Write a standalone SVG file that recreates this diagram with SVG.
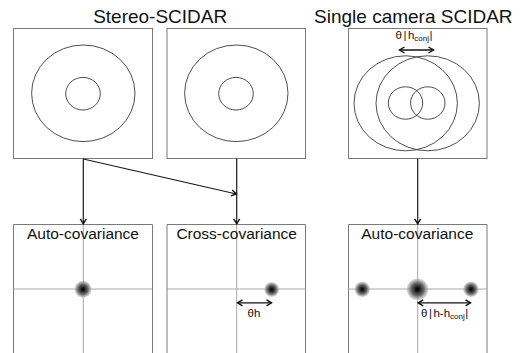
<svg xmlns="http://www.w3.org/2000/svg" width="520" height="353" viewBox="0 0 520 353">
<style>
.box{fill:none;stroke:#7a7a7a;stroke-width:1}
.ring{fill:none;stroke:#3a3a3a;stroke-width:0.9}
.grid{stroke:#a8a8a8;stroke-width:1;fill:none}
.conn{stroke:#1a1a1a;stroke-width:1.2;fill:none}
.dim{stroke:#111;stroke-width:1.3;fill:none}
.title{font-family:"Liberation Sans",Arial,sans-serif;font-size:19px;fill:#111;text-anchor:middle}
.lbl{font-family:"Liberation Sans",Arial,sans-serif;font-size:15.5px;fill:#111;text-anchor:middle}
.small{font-family:"Liberation Sans",Arial,sans-serif;font-size:11.5px;fill:#111}
</style>
<defs>
<marker id="ah" viewBox="0 0 8 8" refX="6.5" refY="4" markerWidth="8" markerHeight="8" markerUnits="userSpaceOnUse" orient="auto-start-reverse">
<path d="M1.5,1 L6.5,4 L1.5,7" fill="none" stroke="#111" stroke-width="1.4"/>
</marker>
<radialGradient id="blob">
<stop offset="0" stop-color="#000"/>
<stop offset="0.2" stop-color="#1a1a1a"/>
<stop offset="0.6" stop-color="#6a6a6a"/>
<stop offset="1" stop-color="#aaa" stop-opacity="0.4"/>
</radialGradient>
</defs>
<rect width="520" height="353" fill="#fff"/>
<text class="title" x="160.2" y="23.3">Stereo-SCIDAR</text>
<text class="title" x="413.3" y="23.3">Single camera SCIDAR</text>
<g id="pupil1">
<rect class="box" x="13.5" y="28.5" width="139" height="130"/>
<ellipse class="ring" cx="83.3" cy="93.3" rx="51.7" ry="48.3"/>
<ellipse class="ring" cx="83" cy="93.7" rx="17.3" ry="16.3"/>
</g>
<g id="pupil2">
<rect class="box" x="167" y="28.5" width="138.5" height="130"/>
<ellipse class="ring" cx="236.3" cy="93.3" rx="51.7" ry="48.3"/>
<ellipse class="ring" cx="236" cy="93.7" rx="17.3" ry="16.3"/>
</g>
<g id="pupil3">
<rect class="box" x="348.5" y="28.5" width="138.5" height="130"/>
<ellipse class="ring" cx="405.7" cy="103.3" rx="51.7" ry="47.5"/>
<ellipse class="ring" cx="427.7" cy="103.3" rx="51.7" ry="47.5"/>
<ellipse class="ring" cx="405.5" cy="103" rx="17.2" ry="16.2"/>
<ellipse class="ring" cx="427.8" cy="103" rx="17.2" ry="16.2"/>
<line class="dim" x1="399.5" y1="50" x2="433.5" y2="50" marker-start="url(#ah)" marker-end="url(#ah)"/>
<text class="small" x="395.5" y="39">θ<tspan dx="1.5">|</tspan><tspan dx="1.5">h</tspan><tspan font-size="8" dy="2">conj</tspan><tspan dx="0.5" dy="-2">|</tspan></text>
</g>
<g id="auto1">
<path class="box" d="M13.5,353 V224.5 H152.5 V353"/>
<line class="grid" x1="13.5" y1="289" x2="152.5" y2="289"/>
<line class="grid" x1="83.3" y1="224.5" x2="83.3" y2="353"/>
<text class="lbl" x="83" y="239">Auto-covariance</text>
<circle cx="83" cy="289.3" r="8.5" fill="url(#blob)"/>
</g>
<g id="cross">
<path class="box" d="M167,353 V224.5 H305.5 V353"/>
<line class="grid" x1="167" y1="289" x2="305.5" y2="289"/>
<line class="grid" x1="236.7" y1="224.5" x2="236.7" y2="353"/>
<text class="lbl" x="236.7" y="239">Cross-covariance</text>
<circle cx="271.7" cy="289.5" r="7.5" fill="url(#blob)"/>
<line class="dim" x1="237.5" y1="302.8" x2="271.5" y2="302.8" marker-start="url(#ah)" marker-end="url(#ah)"/>
<text class="small" x="247.5" y="316.7">θh</text>
</g>
<g id="auto2">
<path class="box" d="M348.5,353 V224.5 H487 V353"/>
<line class="grid" x1="348.5" y1="289" x2="487" y2="289"/>
<line class="grid" x1="417.7" y1="224.5" x2="417.7" y2="353"/>
<text class="lbl" x="417.3" y="239">Auto-covariance</text>
<circle cx="362.3" cy="289.3" r="7.8" fill="url(#blob)"/>
<circle cx="417.5" cy="289.3" r="10.8" fill="url(#blob)"/>
<circle cx="471" cy="289.3" r="7.8" fill="url(#blob)"/>
<line class="dim" x1="418.2" y1="302.8" x2="470.5" y2="302.8" marker-start="url(#ah)" marker-end="url(#ah)"/>
<text class="small" x="421" y="316.7">θ<tspan dx="1.5">|</tspan><tspan dx="1.5">h-h</tspan><tspan font-size="8" dy="2.5">conj</tspan><tspan dx="0.5" dy="-2.5">|</tspan></text>
</g>
<g id="connectors">
<line class="conn" x1="83.3" y1="158.5" x2="83.3" y2="223.8" marker-end="url(#ah)"/>
<line class="conn" x1="83.3" y1="159" x2="236.4" y2="194" marker-end="url(#ah)"/>
<line class="conn" x1="236.7" y1="158.5" x2="236.7" y2="223.8" marker-end="url(#ah)"/>
<line class="conn" x1="417.7" y1="158.5" x2="417.7" y2="223.8" marker-end="url(#ah)"/>
</g>
</svg>
